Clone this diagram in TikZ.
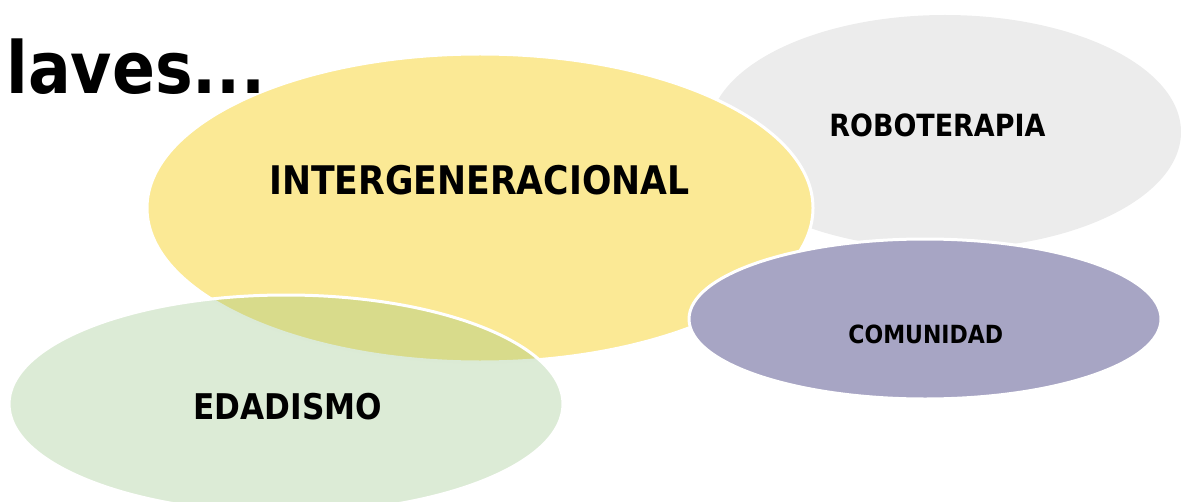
\documentclass[tikz,border=0pt]{standalone}
\usepackage{fontspec}
\newfontfamily\keyfont{DejaVu Sans}[FakeStretch=0.88]
\usepackage{tikz}
\definecolor{amarillo}{HTML}{FBE995}
\definecolor{lila}{HTML}{A7A5C4}
\definecolor{gris}{HTML}{ECECEC}
\definecolor{verde}{HTML}{8ABC76}
\tikzset{clave/.style={anchor=base west, inner sep=0pt, font=\keyfont\bfseries}}

\begin{document}
\begin{tikzpicture}[x=0.5pt,y=-0.5pt]
        \useasboundingbox (0,0) rectangle (1181,502);
        \clip (0,0) rectangle (1181,502);

        \fill[gris] (945,132) ellipse [x radius=236, y radius=117];
        \filldraw[fill=amarillo, draw=white, line width=1.5pt] (480,208) ellipse [x radius=333, y radius=154];
        \filldraw[fill=lila, draw=white, line width=1.5pt] (925,319) ellipse [x radius=236, y radius=80];
        \filldraw[fill=verde, fill opacity=0.3, draw=white, line width=1.5pt] (286,404) ellipse [x radius=277, y radius=109];

        \node[clave, font=\keyfont\bfseries\fontsize{36}{40}\selectfont] (titulo) at (6,94) {laves...};
        \node[clave, font=\keyfont\bfseries\fontsize{19.7}{22}\selectfont] (interg) at (269,194) {INTERGENERACIONAL};
        \node[clave, font=\keyfont\bfseries\fontsize{15.3}{18}\selectfont] (robot) at (829,137) {ROBOTERAPIA};
        \node[clave, font=\keyfont\bfseries\fontsize{12.5}{15}\selectfont] (comun) at (848,343) {COMUNIDAD};
        \node[clave, font=\keyfont\bfseries\fontsize{17.7}{20}\selectfont] (edad) at (193,419) {EDADISMO};
    \end{tikzpicture}
\end{document}
